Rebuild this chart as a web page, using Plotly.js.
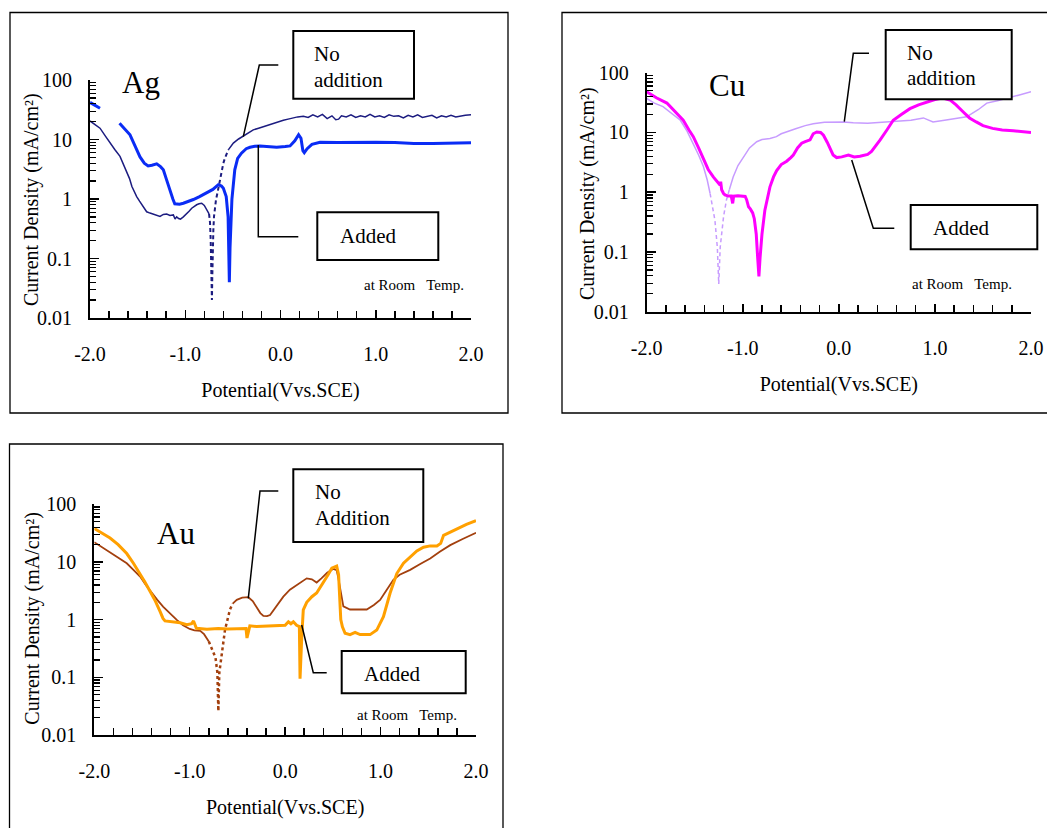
<!DOCTYPE html>
<html>
<head>
<meta charset="utf-8">
<script src="https://cdn.plot.ly/plotly-3.0.1.min.js"></script>
<style>html,body{margin:0;padding:0;background:#fff;}#chart{width:1047px;height:828px;}</style>
</head>
<body>
<div id="chart"></div>
<script>
// ---------------- DATA ----------------
const xTickVals = [-2, -1, 0, 1, 2];
const xTickText = ['-2.0', '-1.0', '0.0', '1.0', '2.0'];
const yTickVals = [0.01, 0.1, 1, 10, 100];
const yTickText = ['0.01', '0.1', '1', '10', '100'];

// Ag - no addition (solid / dashed / solid)
const agNoX1 = [-2.0,-1.95,-1.895,-1.84,-1.79,-1.74,-1.685,-1.65,-1.615,-1.585,-1.56,-1.535,-1.51,-1.48,-1.457,-1.43,-1.405,-1.37,-1.335,-1.30,-1.265,-1.23,-1.195,-1.16,-1.125,-1.107,-1.09,-1.07,-1.05,-1.02,-0.985,-0.96,-0.932,-0.905,-0.88,-0.855,-0.827,-0.80,-0.775,-0.75];
const agNoY1 = [20.5,18,15.5,11.5,8.7,6.8,5.2,3.9,2.9,2.2,1.62,1.3,1.1,0.92,0.8,0.7,0.61,0.58,0.56,0.53,0.51,0.55,0.56,0.53,0.54,0.46,0.5,0.47,0.46,0.5,0.56,0.62,0.70,0.76,0.8,0.83,0.85,0.78,0.66,0.56];
const agNoX2 = [-0.75,-0.74,-0.733,-0.725,-0.72,-0.716,-0.712,-0.705,-0.698,-0.688,-0.677,-0.665,-0.653,-0.635,-0.617,-0.6,-0.583,-0.565,-0.548];
const agNoY2 = [0.56,0.4,0.21,0.06,0.02,0.05,0.16,0.3,0.51,0.75,0.98,1.2,1.52,2.2,3.1,4.0,4.9,5.8,6.7];
const agNoX3 = [-0.548,-0.52,-0.495,-0.44,-0.39,-0.34,-0.286,-0.23,-0.18,-0.13,-0.075,-0.02,0.03,0.08,0.13,0.18,0.24,0.29,0.34,0.39,0.44,0.49,0.54,0.58,0.61,0.64,0.69,0.74,0.79,0.84,0.89,0.94,0.99,1.04,1.09,1.14,1.19,1.24,1.29,1.34,1.39,1.44,1.49,1.54,1.59,1.64,1.69,1.74,1.79,1.84,1.89,1.94,2.0];
const agNoY3 = [6.7,7.8,8.7,10.2,11.5,13,14.5,15.5,16.5,17.5,18.7,20,21,22,23,24,24.5,23.5,26,24,26.5,22.5,25,21.5,22,25,24,26,23.5,25,24,26.5,24,25,23.5,26,24.5,25,23,25.5,24,26,23.5,24.5,25.5,23,25,24,25.5,24,25,25.5,26];
// Ag - added
const agAddX = [-2.0,-1.95,-1.895,-1.8,-1.69,-1.64,-1.58,-1.53,-1.475,-1.43,-1.39,-1.35,-1.30,-1.26,-1.23,-1.2,-1.16,-1.13,-1.11,-1.06,-1.02,-0.96,-0.915,-0.85,-0.775,-0.71,-0.653,-0.62,-0.6,-0.57,-0.55,-0.54,-0.537,-0.53,-0.52,-0.51,-0.48,-0.45,-0.41,-0.36,-0.32,-0.27,-0.215,-0.15,-0.08,-0.04,0.05,0.1,0.15,0.19,0.215,0.235,0.25,0.28,0.33,0.415,0.6,0.8,1.0,1.2,1.4,1.6,1.8,2.0];
const agAddY = [42,38,33.5,null,18.7,15,12,8,5.1,4.0,3.6,3.7,3.9,3.5,3.1,2.2,1.35,1.0,0.83,0.82,0.85,0.92,0.98,1.1,1.26,1.45,1.74,1.65,1.52,1.1,0.5,0.12,0.04,0.15,0.5,1.0,3.1,4.8,5.9,7.0,7.4,7.7,7.8,7.6,7.4,7.4,7.6,7.8,9.5,12,10.5,6.5,6.0,7.0,8.3,9.0,8.9,9.0,9.0,8.9,8.6,8.6,8.8,8.8];

// Cu - no addition (solid / dashed / solid)
const cuNoX1 = [-2.0,-1.92,-1.83,-1.74,-1.65,-1.58,-1.515,-1.46,-1.41,-1.37,-1.34];
const cuNoY1 = [37,31,27,21,16,10.5,6.6,4.2,2.7,1.6,0.95];
const cuNoX2 = [-1.34,-1.31,-1.29,-1.265,-1.25,-1.235,-1.2,-1.17,-1.14];
const cuNoY2 = [0.95,0.55,0.34,0.12,0.029,0.12,0.39,0.74,1.1];
const cuNoX3 = [-1.14,-1.1,-1.05,-0.995,-0.93,-0.855,-0.8,-0.717,-0.65,-0.6,-0.543,-0.45,-0.35,-0.267,-0.15,-0.06,0.046,0.15,0.3,0.45,0.53,0.65,0.75,0.88,0.98,1.1,1.2,1.33,1.45,1.54,1.65,1.75,1.87,2.0];
const cuNoY3 = [1.1,1.8,2.8,3.9,5.5,7.0,7.6,7.9,8.5,9.5,10.3,11.5,13,14,14.8,15,15,14.5,14.2,14.8,15,15.5,16,17.5,15,16,17,18.3,24,31,34,37,42,48];
// Cu - added
const cuAddX = [-2.0,-1.9,-1.79,-1.7,-1.62,-1.56,-1.515,-1.46,-1.41,-1.36,-1.307,-1.26,-1.237,-1.23,-1.22,-1.2,-1.185,-1.15,-1.12,-1.105,-1.095,-1.05,-1.0,-0.975,-0.96,-0.94,-0.92,-0.897,-0.88,-0.873,-0.86,-0.845,-0.832,-0.82,-0.80,-0.77,-0.74,-0.717,-0.68,-0.647,-0.6,-0.543,-0.5,-0.474,-0.43,-0.387,-0.35,-0.3,-0.267,-0.23,-0.19,-0.16,-0.12,-0.09,-0.06,-0.023,0.03,0.1,0.16,0.22,0.3,0.34,0.38,0.43,0.5,0.566,0.65,0.74,0.83,0.914,1.0,1.05,1.1,1.156,1.22,1.295,1.36,1.43,1.5,1.6,1.7,1.815,1.9,2.0];
const cuAddY = [48,38,31,22,16,11,8.5,5.5,3.5,2.4,1.8,1.45,1.32,1.5,1.1,0.95,0.9,0.86,0.86,0.65,0.86,0.87,0.86,0.85,0.75,0.57,0.52,0.45,0.36,0.3,0.2,0.08,0.039,0.08,0.2,0.5,0.9,1.23,1.8,2.3,2.9,3.3,3.8,4.2,5.5,6.6,7.0,7.5,9.5,10.2,10.0,9.0,6.8,5.2,4.2,3.8,3.9,4.2,3.9,4.0,4.3,4.8,5.8,7.5,11,16,20,25,29,32.5,35.5,37,37,35,29,22,17.5,15,13,11.7,11,10.7,10.3,10];

// Au - no addition (solid / dotted / solid)
const auNoX1 = [-2.0,-1.92,-1.835,-1.75,-1.66,-1.59,-1.52,-1.46,-1.40,-1.34,-1.277,-1.2,-1.136,-1.07,-1.0,-0.95,-0.89,-0.85,-0.82,-0.8];
const auNoY1 = [22,18,15,12,9.5,7.3,5.6,4.0,2.9,2.2,1.67,1.25,0.99,0.8,0.69,0.65,0.64,0.56,0.48,0.42];
const auNoX2 = [-0.8,-0.753,-0.73,-0.71,-0.70,-0.69,-0.665,-0.63,-0.578,-0.55];
const auNoY2 = [0.42,0.28,0.22,0.12,0.026,0.12,0.26,0.67,1.5,1.9];
const auNoX3 = [-0.55,-0.507,-0.45,-0.386,-0.34,-0.298,-0.26,-0.228,-0.19,-0.158,-0.09,-0.019,0.05,0.12,0.226,0.28,0.33,0.38,0.44,0.506,0.54,0.558,0.58,0.61,0.68,0.77,0.855,0.93,0.995,1.06,1.134,1.2,1.31,1.42,1.52,1.62,1.73,1.86,2.0];
const auNoY3 = [1.9,2.2,2.4,2.45,2.1,1.67,1.3,1.16,1.15,1.2,1.7,2.5,3.3,4.0,5.2,5.0,4.4,5.2,6.5,7.6,7.2,5.2,3.0,1.7,1.5,1.5,1.5,1.8,2.2,3.2,4.9,6.0,7.3,9.3,11.5,15,19.6,25,32];
// Au - added
const auAddX = [-2.0,-1.92,-1.835,-1.75,-1.66,-1.59,-1.52,-1.47,-1.416,-1.36,-1.31,-1.28,-1.259,-1.2,-1.1,-1.03,-0.98,-0.96,-0.945,-0.93,-0.82,-0.7,-0.6,-0.543,-0.45,-0.41,-0.40,-0.385,-0.37,-0.3,-0.193,-0.088,0.0,0.034,0.06,0.086,0.12,0.149,0.156,0.174,0.19,0.226,0.28,0.33,0.4,0.45,0.489,0.54,0.56,0.568,0.583,0.6,0.628,0.68,0.733,0.785,0.89,0.96,1.03,1.1,1.17,1.24,1.31,1.38,1.45,1.52,1.59,1.63,1.66,1.73,1.8,1.9,2.0];
const auAddY = [38,32,26,20,14,9.5,6.3,4.5,3.1,2.1,1.38,1.05,0.95,0.93,0.88,0.82,0.85,0.95,0.8,0.71,0.68,0.7,0.69,0.69,0.68,0.7,0.48,0.6,0.78,0.76,0.77,0.78,0.8,0.92,0.85,0.92,0.8,0.76,0.095,0.5,1.48,2.0,2.5,2.9,4.3,6.0,7.8,8.5,6.0,3.7,1.0,0.75,0.58,0.55,0.6,0.55,0.55,0.66,1.13,2.9,6.3,9.5,12.3,15.5,18,19,19,21,29,33,38,45,52];

// ---------------- STYLE / LAYOUT ----------------
const W = 1047, H = 828;
const PX = x => x / W;
const PY = y => 1 - y / H;
const SERIF = "'Liberation Serif', serif";

const colAgNo = '#1c1c80', colAgAdd = '#0a2cf5';
const colCuNo = '#c79bff', colCuAdd = '#ff00ff';
const colAuNo = '#a3400e', colAuAdd = '#ffa000';

function ln(x, y, xa, ya, color, width, dash) {
  return {x: x, y: y, xaxis: xa, yaxis: ya, type: 'scatter', mode: 'lines',
    line: {color: color, width: width, dash: dash || 'solid'}, connectgaps: false, hoverinfo: 'skip'};
}

const traces = [
  ln(agNoX1, agNoY1, 'x', 'y', colAgNo, 1.5),
  ln(agNoX2, agNoY2, 'x', 'y', colAgNo, 2, '4px,3px'),
  ln(agNoX3, agNoY3, 'x', 'y', colAgNo, 1.5),
  ln(agAddX, agAddY, 'x', 'y', colAgAdd, 3),
  ln(cuNoX1, cuNoY1, 'x2', 'y2', colCuNo, 1.5),
  ln(cuNoX2, cuNoY2, 'x2', 'y2', colCuNo, 1.5, '4px,3px'),
  ln(cuNoX3, cuNoY3, 'x2', 'y2', colCuNo, 1.5),
  ln(cuAddX, cuAddY, 'x2', 'y2', colCuAdd, 3),
  ln(auNoX1, auNoY1, 'x3', 'y3', colAuNo, 1.8),
  ln(auNoX2, auNoY2, 'x3', 'y3', colAuNo, 2.5, 'dot'),
  ln(auNoX3, auNoY3, 'x3', 'y3', colAuNo, 1.8),
  ln(auAddX, auAddY, 'x3', 'y3', colAuAdd, 3)
];

const xMinor = [];
for (let k = -10; k <= 10; k++) { if (k % 5 !== 0) xMinor.push(k / 5); }
const yMinor = [];
[0.01, 0.1, 1, 10].forEach(d => { for (let m = 2; m <= 9; m++) yMinor.push(d * m); });

function xAxis(px0, px1, anchor) {
  return {
    domain: [PX(px0), PX(px1)], anchor: anchor, range: [-2, 2],
    tickmode: 'array', tickvals: xTickVals, ticktext: xTickText,
    ticks: 'inside', ticklen: 8, tickwidth: 1.5, tickcolor: '#000',
    minor: {tickmode: 'array', tickvals: xMinor, ticks: 'inside', ticklen: 7, tickwidth: 1.5, tickcolor: '#000', showgrid: false},
    showline: true, linewidth: 2, linecolor: '#000', showgrid: false, zeroline: false,
    tickfont: {family: SERIF, size: 20, color: '#000'}, ticklabelstandoff: 17,
    title: {text: 'Potential(Vvs.SCE)', font: {family: SERIF, size: 20, color: '#000'}, standoff: 19},
    fixedrange: true
  };
}
function yAxis(pyTop, pyBot, anchor) {
  return {
    domain: [PY(pyBot), PY(pyTop)], anchor: anchor, type: 'log', range: [-2, 2],
    tickmode: 'array', tickvals: yTickVals, ticktext: yTickText,
    ticks: 'inside', ticklen: 9, tickwidth: 1.5, tickcolor: '#000',
    minor: {tickmode: 'array', tickvals: yMinor, ticks: 'inside', ticklen: 6, tickwidth: 1.2, tickcolor: '#000', showgrid: false},
    showline: true, linewidth: 2, linecolor: '#000', showgrid: false, zeroline: false,
    tickfont: {family: SERIF, size: 20, color: '#000'}, ticklabelstandoff: 12,
    fixedrange: true
  };
}

function rect(x0, y0, x1, y1, w, fill) {
  return {type: 'rect', xref: 'paper', yref: 'paper', x0: PX(x0), y0: PY(y1), x1: PX(x1), y1: PY(y0),
    line: {color: '#000', width: w}, fillcolor: fill || 'rgba(0,0,0,0)', layer: fill ? 'above' : 'below'};
}
function poly(pts) {
  const d = pts.map((p, i) => (i ? 'L' : 'M') + PX(p[0]).toFixed(5) + ',' + PY(p[1]).toFixed(5)).join(' ');
  return {type: 'path', xref: 'paper', yref: 'paper', path: d, line: {color: '#000', width: 1.5}, layer: 'above'};
}

const shapes = [
  rect(10, 12.5, 508, 413, 1.3),
  rect(562, 12.5, 1055, 413, 1.3),
  rect(9.5, 444, 503, 835, 1.3),
  rect(293.3, 31, 414, 98.7, 2, '#fff'),
  rect(317.3, 212.3, 438.3, 260, 2, '#fff'),
  rect(885.7, 30, 1011.7, 99.3, 2, '#fff'),
  rect(910.7, 205, 1037.3, 249.3, 2, '#fff'),
  rect(293.3, 469.3, 423.3, 542, 2, '#fff'),
  rect(341.7, 651, 465.7, 693.3, 2, '#fff'),
  poly([[278.3, 65], [259.3, 65], [243.3, 136.7]]),
  poly([[258.3, 145], [258.3, 236.7], [298.3, 236.7]]),
  poly([[869, 53.3], [853.3, 53.3], [844.3, 121.7]]),
  poly([[851.7, 160], [873.3, 228.3], [894.3, 228.3]]),
  poly([[278.3, 491], [260, 491], [248.3, 598.3]]),
  poly([[301.7, 625], [313.3, 672.7], [326.7, 672.7]])
];

function txt(text, x, y, size, xanchor, angle) {
  return {text: text, xref: 'paper', yref: 'paper', x: PX(x), y: PY(y), xanchor: xanchor || 'left', yanchor: 'middle',
    align: 'left', showarrow: false, textangle: angle || 0, font: {family: SERIF, size: size, color: '#000'}};
}
const ROOM = 'at Room\u00a0\u00a0 Temp.';
const YTITLE = 'Current Density (mA/cm\u00b2)';
const annotations = [
  txt(YTITLE, 32, 200, 20, 'center', -90),
  txt(YTITLE, 587.5, 193.5, 20, 'center', -90),
  txt(YTITLE, 31.7, 618, 20, 'center', -90),
  txt('Ag', 141, 82, 31, 'center'),
  txt('Cu', 726.5, 85, 31, 'center'),
  txt('Au', 176, 533, 31, 'center'),
  txt('No', 312, 54, 21),
  txt('addition', 312, 80, 21),
  txt('Added', 338, 236, 21),
  txt('No', 905, 53, 21),
  txt('addition', 905, 78, 21),
  txt('Added', 931, 228, 21),
  txt('No', 313, 492.3, 21),
  txt('Addition', 313, 517.7, 21),
  txt('Added', 362, 674, 21),
  txt(ROOM, 362, 285, 15),
  txt(ROOM, 909.5, 283.5, 15),
  txt(ROOM, 354.5, 715, 15)
];

const layout = {
  width: W, height: H, margin: {l: 0, r: 0, t: 0, b: 0},
  paper_bgcolor: '#fff', plot_bgcolor: 'rgba(0,0,0,0)', showlegend: false,
  xaxis: xAxis(90, 471, 'y'), yaxis: yAxis(80, 318, 'x'),
  xaxis2: xAxis(646.7, 1031, 'y2'), yaxis2: yAxis(72.7, 311.7, 'x2'),
  xaxis3: xAxis(94.3, 476, 'y3'), yaxis3: yAxis(504.3, 735, 'x3'),
  shapes: shapes, annotations: annotations
};

Plotly.newPlot('chart', traces, layout, {displayModeBar: false, staticPlot: true});
</script>
</body>
</html>
